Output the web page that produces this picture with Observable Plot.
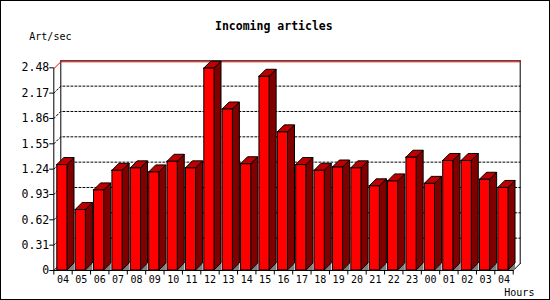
<!DOCTYPE html>
<html>
<head>
<meta charset="utf-8">
<script src="https://cdn.jsdelivr.net/npm/d3@7"></script>
<script src="https://cdn.jsdelivr.net/npm/@observablehq/plot@0.6"></script>
<style>
  html, body { margin: 0; padding: 0; background: #fff; }
  #wrap { position: relative; width: 550px; height: 300px; overflow: hidden; background: #fff; }
  #frame { position: absolute; left: 0; top: 0; width: 550px; height: 300px; box-sizing: border-box; border: 1px solid #000; pointer-events: none; }
  .lbl { position: absolute; font-family: "DejaVu Sans Mono", monospace; line-height: 1; white-space: nowrap; color: #000; }
  #title { font-size: 11.5px; font-weight: bold; left: 215px; top: 20.8px; }
  #ylab { font-size: 10px; left: 29.3px; top: 32.2px; }
  #xlab { font-size: 10px; left: 504.3px; top: 287.5px; }
</style>
</head>
<body>
<div id="wrap">
  <div id="chart"></div>
  <div class="lbl" id="title">Incoming articles</div>
  <div class="lbl" id="ylab">Art/sec</div>
  <div class="lbl" id="xlab">Hours</div>
  <div id="frame"></div>
</div>
<script>
// ---- data ----
const hours = ["04","05","06","07","08","09","10","11","12","13","14","15","16","17","18","19","20","21","22","23","00","01","02","03","04"];
const values = [1.29,0.74,0.98,1.22,1.25,1.20,1.33,1.25,2.47,1.97,1.30,2.37,1.69,1.29,1.22,1.26,1.25,1.03,1.09,1.38,1.06,1.34,1.34,1.11,1.01];
const yTicks = [0,0.31,0.62,0.93,1.24,1.55,1.86,2.17,2.48];

// ---- layout (pixels) ----
const X0 = 53.3, X1 = 512.7, Y0 = 270, YT = 67.3;
const n = hours.length;
const ymax = yTicks[yTicks.length - 1];
const ux = n / (X1 - X0);        // x units per pixel
const uy = ymax / (Y0 - YT);     // y units per pixel
const DX = 7 * ux, DY = 7 * uy;  // 3D depth
const FOFF = 3.5 * ux, FW = 10.2 * ux;

const bars = values.map((v, i) => ({i, v, x1: i + FOFF, x2: i + FOFF + FW, base: 0}));
const sidePts = bars.flatMap(b => [
  {k: b.i, x: b.x2, y1: 0, y2: b.v},
  {k: b.i, x: b.x2 + DX, y1: DY, y2: b.v + DY}
]);
const topPts = bars.flatMap(b => [
  {k: b.i, x: b.x1, y1: b.v, y2: b.v},
  {k: b.i, x: b.x1 + DX, y1: b.v, y2: b.v + DY},
  {k: b.i, x: b.x2, y1: b.v, y2: b.v + DY},
  {k: b.i, x: b.x2 + DX, y1: b.v + DY, y2: b.v + DY}
]);
const triPts = bars.flatMap(b => [
  {k: b.i, x: b.x2, y1: 0, y2: 0},
  {k: b.i, x: b.x2 + DX, y1: 0, y2: DY}
]);

// grid lines on left + back wall
const gridPts = yTicks.slice(1, -1).flatMap(t => [
  {k: t, x: 0, y: t}, {k: t, x: DX, y: t + DY}, {k: t, x: n + DX, y: t + DY}
]);
const maxPts = [{x: 0, y: ymax}, {x: DX, y: ymax + DY}, {x: n + DX, y: ymax + DY}];
const wallSegs = [
  [[0, 0], [0, ymax]],
  [[0, 0], [n, 0]],
  [[0, 0], [DX, DY]],
  [[n, 0], [n + DX, DY]],
  [[DX, DY], [DX, ymax + DY]],
  [[n + DX, DY], [n + DX, ymax + DY]],
  [[DX, ymax + DY], [n + DX, ymax + DY]]
];
const wallPts = wallSegs.flatMap((s, k) => s.map(p => ({k, x: p[0], y: p[1]})));
const bounds = d3.range(n + 1);
const labelRows = hours.map((h, i) => ({h, i}));

const chart = Plot.plot({
  width: 550,
  height: 300,
  margin: 0,
  style: {fontFamily: "'DejaVu Sans Mono', monospace", color: "#000", background: "transparent"},
  x: {type: "linear", domain: [0, n], range: [X0, X1], axis: null},
  y: {type: "linear", domain: [0, ymax], range: [Y0, YT], axis: null},
  marks: [
    // dotted grid
    Plot.line(gridPts, {x: "x", y: "y", z: "k", stroke: "#000", strokeWidth: 1, strokeDasharray: "2,2"}),
    // walls
    Plot.line(wallPts, {x: "x", y: "y", z: "k", stroke: "#000", strokeWidth: 1}),
    // max line (red)
    Plot.line(maxPts, {x: "x", y: "y", stroke: "#ff0000", strokeWidth: 1, dy: 1}),
    // y ticks
    Plot.ruleY(yTicks, {y: d => d, x1: () => -4 * ux, x2: () => 0, stroke: "#000"}),
    // x ticks
    Plot.ruleX(bounds, {x: d => d, y1: () => 0, y2: () => -4.5 * uy, stroke: "#000"}),
    // floor shading under each bar side
    Plot.area(triPts, {x1: "x", y1: "y1", y2: "y2", z: "k", fill: "#808080", curve: "linear"}),
    // bar sides
    Plot.area(sidePts, {x1: "x", y1: "y1", y2: "y2", z: "k", fill: "#800000", stroke: "#000", strokeWidth: 1, curve: "linear"}),
    // bar tops
    Plot.area(topPts, {x1: "x", y1: "y1", y2: "y2", z: "k", fill: "#c00000", stroke: "#000", strokeWidth: 1, curve: "linear"}),
    // bar fronts
    Plot.rect(bars, {x1: "x1", x2: "x2", y1: "base", y2: "v", fill: "#ff0000", stroke: "#000", strokeWidth: 1}),
    // y tick labels
    Plot.text(yTicks, {x: () => 0, y: d => d, text: d => d === 0 ? "0" : d.toFixed(2), textAnchor: "end", dx: -4.5, fontSize: 11.5, fill: "#000"}),
    // x tick labels
    Plot.text(labelRows, {x: d => d.i + 0.5, y: () => 0, text: "h", lineAnchor: "top", dy: 5.6, fontSize: 10, fill: "#000"})
  ]
});
document.getElementById("chart").appendChild(chart);
</script>
</body>
</html>
